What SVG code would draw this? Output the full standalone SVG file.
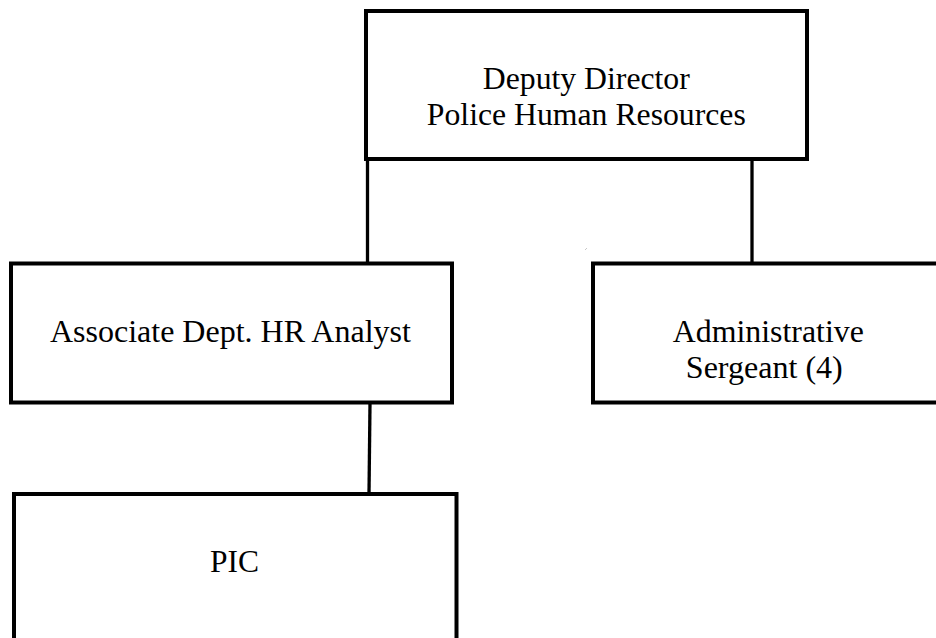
<svg xmlns="http://www.w3.org/2000/svg" width="936" height="638" viewBox="0 0 936 638">
  <style>
    .box { fill: #ffffff; stroke: #000000; stroke-width: 4; }
    .link { fill: none; stroke: #000000; stroke-width: 3.3; }
    .label { font-family: "Liberation Serif", "Times New Roman", serif; font-size: 30.5px; fill: #000000; text-anchor: middle; }
  </style>
  <rect width="936" height="638" fill="#ffffff"/>

  <!-- reporting lines -->
  <g id="connectors">
    <line class="link" x1="367.5" y1="159" x2="367.5" y2="263"/>
    <line class="link" x1="752" y1="159" x2="752" y2="263"/>
    <line class="link" x1="370" y1="403" x2="369" y2="494"/>
    <line x1="585" y1="250" x2="587" y2="248" stroke="#c8c8c8" stroke-width="1"/>
  </g>

  <g id="deputy-director">
    <rect class="box" x="366" y="11" width="441" height="148"/>
    <text class="label" x="586.3" y="89" textLength="207" lengthAdjust="spacingAndGlyphs">Deputy Director</text>
    <text class="label" x="586.3" y="125" textLength="319" lengthAdjust="spacingAndGlyphs">Police Human Resources</text>
  </g>

  <g id="hr-analyst">
    <rect class="box" x="11" y="263.5" width="441" height="139"/>
    <text class="label" x="230.4" y="342" textLength="361" lengthAdjust="spacingAndGlyphs">Associate Dept. HR Analyst</text>
  </g>

  <g id="admin-sergeant">
    <rect class="box" x="593" y="263.5" width="350" height="139"/>
    <text class="label" x="768.3" y="342" textLength="191" lengthAdjust="spacingAndGlyphs">Administrative</text>
    <text class="label" x="764.3" y="378" textLength="157" lengthAdjust="spacingAndGlyphs">Sergeant (4)</text>
  </g>

  <g id="pic">
    <rect class="box" x="14" y="494" width="442.5" height="170"/>
    <text class="label" x="234.5" y="572" textLength="49" lengthAdjust="spacingAndGlyphs">PIC</text>
  </g>
</svg>
